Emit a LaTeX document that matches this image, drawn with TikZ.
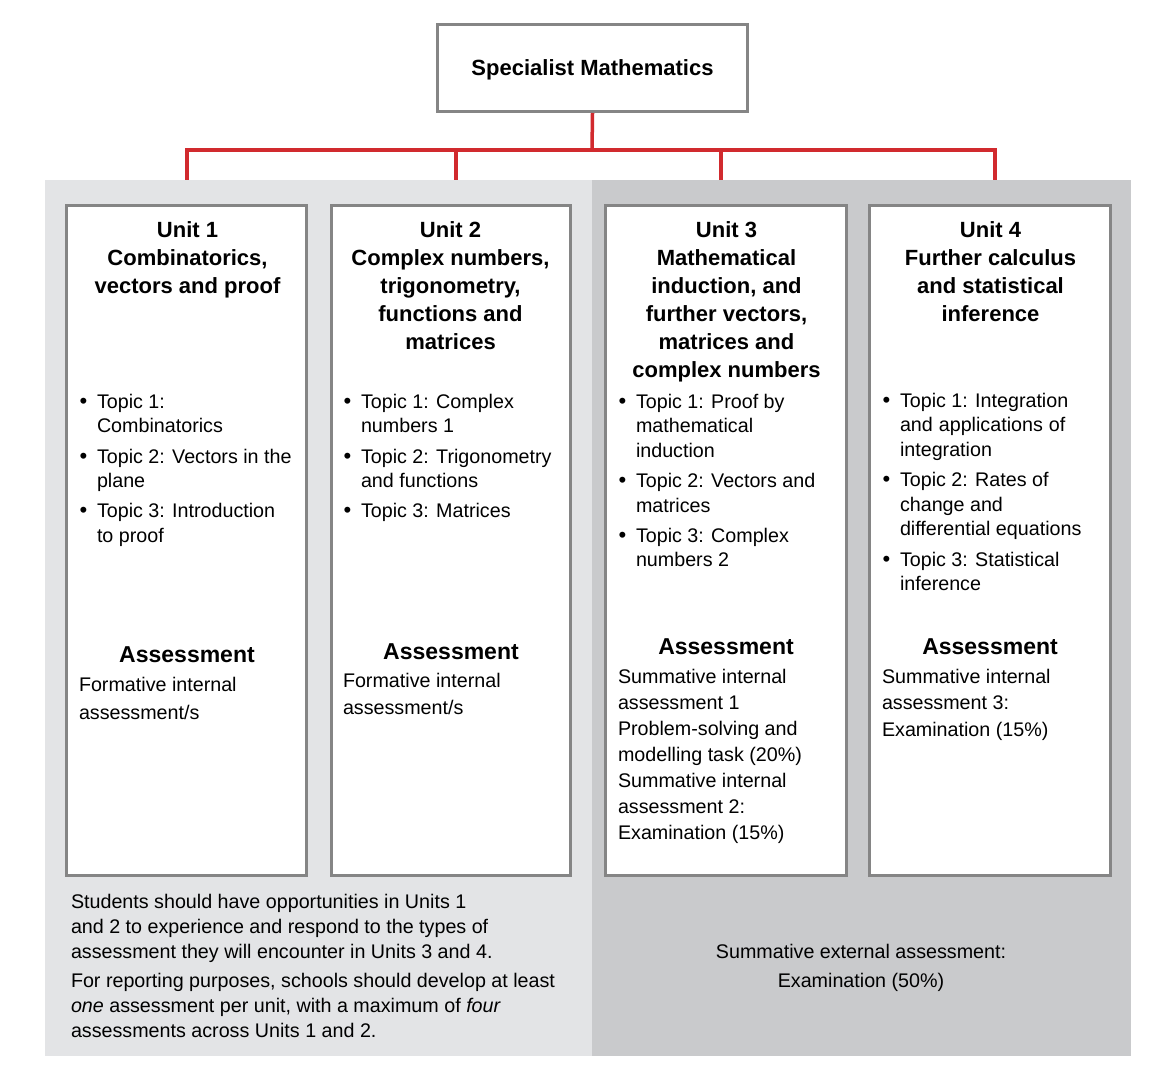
\documentclass[tikz,border=0pt]{standalone}
\usepackage{fontspec}
\setmainfont{Liberation Sans}
\usetikzlibrary{shadows}
\definecolor{redline}{HTML}{D12A2E}
\definecolor{boxborder}{HTML}{858585}
\definecolor{panelL}{HTML}{E3E4E6}
\definecolor{panelR}{HTML}{C9CACC}
\newcommand{\bodyfont}{\fontsize{19.7}{24.5}\selectfont}
\newcommand{\titlefont}{\fontsize{22}{28}\selectfont\bfseries}
\newcommand{\asfont}{\fontsize{23}{28}\selectfont\bfseries}
\newcommand{\bul}{\makebox[6.9pt][c]{\fontsize{22}{24}\selectfont\textbullet}}
\tikzset{
  boxshadow/.style={drop shadow={shadow xshift=1.5pt, shadow yshift=-1.5pt, opacity=0.35, fill=black}},
  unitbox/.style={draw=boxborder, line width=3pt, fill=white, anchor=north west, inner sep=0pt, boxshadow},
  conn/.style={draw=redline, line width=3.5pt},
  txt/.style={inner sep=0pt, outer sep=0pt, anchor=base west},
  ctxt/.style={inner sep=0pt, outer sep=0pt, anchor=base},
}
\begin{document}
\begin{tikzpicture}[x=1pt, y=-1pt]
\useasboundingbox (0,0) rectangle (1155,1083);
\fill[white] (0,0) rectangle (1155,1083);
% panels
\fill[panelL] (45,180) rectangle (592,1056);
\fill[panelR] (592,180) rectangle (1131,1056);
% top box
\node[draw=boxborder, line width=3pt, fill=white, minimum width=310pt, minimum height=87pt, inner sep=0pt, text height=16pt, text depth=0pt, boxshadow] (sm) at (592.5,68) {\titlefont Specialist Mathematics};
% connectors
\coordinate (jn) at (592,150);
\coordinate (d1) at (187,180);
\coordinate (d2) at (456,180);
\coordinate (d3) at (721,180);
\coordinate (d4) at (995,180);
\draw[conn] (sm.south) -- (jn);
\draw[conn] (d1) |- (jn);
\draw[conn] (d4) |- (jn);
\draw[conn] (d2) -- (d2 |- jn);
\draw[conn] (d3) -- (d3 |- jn);
% unit boxes
\node[unitbox, minimum width=240pt, minimum height=670pt] (u1) at (65,204) {};
\node[unitbox, minimum width=239pt, minimum height=670pt] (u2) at (330,204) {};
\node[unitbox, minimum width=241pt, minimum height=670pt] (u3) at (604,204) {};
\node[unitbox, minimum width=241pt, minimum height=670pt] (u4) at (868,204) {};
% titles
\node[ctxt] (h1) at (187.5,237) {\titlefont\begin{tabular}[t]{@{}c@{}}Unit 1\\Combinatorics,\\vectors and proof\end{tabular}};
\node[ctxt] (h2) at (450.5,237) {\titlefont\begin{tabular}[t]{@{}c@{}}Unit 2\\Complex numbers,\\trigonometry,\\functions and\\matrices\end{tabular}};
\node[ctxt] (h3) at (726.5,237) {\titlefont\begin{tabular}[t]{@{}c@{}}Unit 3\\Mathematical\\induction, and\\further vectors,\\matrices and\\complex numbers\end{tabular}};
\node[ctxt] (h4) at (990.5,237) {\titlefont\begin{tabular}[t]{@{}c@{}}Unit 4\\Further calculus\\and statistical\\inference\end{tabular}};
% topics
\node[txt] (t1) at (80.1,408) {\bodyfont\begin{tabular}[t]{@{}l@{\hspace{10pt}}l@{}}\bul & Topic 1:\\ & Combinatorics\\[6pt] \bul & Topic 2: Vectors in the\\ & plane\\[5.5pt] \bul & Topic 3: Introduction\\ & to proof\end{tabular}};
\node[txt] (t2) at (344.1,408) {\bodyfont\begin{tabular}[t]{@{}l@{\hspace{10pt}}l@{}}\bul & Topic 1: Complex\\ & numbers 1\\[6pt] \bul & Topic 2: Trigonometry\\ & and functions\\[5.5pt] \bul & Topic 3: Matrices\end{tabular}};
\node[txt] (t3) at (619.1,408) {\bodyfont\begin{tabular}[t]{@{}l@{\hspace{10pt}}l@{}}\bul & Topic 1: Proof by\\ & mathematical\\ & induction\\[6pt] \bul & Topic 2: Vectors and\\ & matrices\\[5.5pt] \bul & Topic 3: Complex\\ & numbers 2\end{tabular}};
\node[txt] (t4) at (883.1,407) {\bodyfont\begin{tabular}[t]{@{}l@{\hspace{10pt}}l@{}}\bul & Topic 1: Integration\\ & and\hspace{6pt}applications\hspace{6pt}of\\ & integration\\[6pt] \bul & Topic 2: Rates of\\ & change and\\ & differential equations\\[6pt] \bul & Topic 3: Statistical\\ & inference\end{tabular}};
% assessment headers
\node[ctxt] (a1) at (187,662) {\asfont Assessment};
\node[ctxt] (a2) at (451,659) {\asfont Assessment};
\node[ctxt] (a3) at (726,654) {\asfont Assessment};
\node[ctxt] (a4) at (990,654) {\asfont Assessment};
% assessment bodies
\node[txt] (b1) at (79,691) {\fontsize{19.7}{28}\selectfont\begin{tabular}[t]{@{}l@{}}Formative internal\\assessment/s\end{tabular}};
\node[txt] (b2) at (343,687) {\fontsize{19.7}{27}\selectfont\begin{tabular}[t]{@{}l@{}}Formative internal\\assessment/s\end{tabular}};
\node[txt] (b3) at (618,683) {\fontsize{19.7}{26}\selectfont\begin{tabular}[t]{@{}l@{}}Summative internal\\assessment 1\\Problem-solving and\\modelling task (20\%)\\Summative internal\\assessment 2:\\Examination (15\%)\end{tabular}};
\node[txt] (b4) at (882,683) {\fontsize{19.7}{26.5}\selectfont\begin{tabular}[t]{@{}l@{}}Summative internal\\assessment 3:\\Examination (15\%)\end{tabular}};
% bottom texts
\node[txt] (n1) at (71,908) {\fontsize{19.7}{25}\selectfont\begin{tabular}[t]{@{}l@{}}Students should have opportunities in Units 1\\and 2 to experience and respond to the types of\\assessment they will encounter in Units 3 and 4.\\[4pt]For reporting purposes, schools should develop at least\\\textit{one} assessment per unit, with a maximum of \textit{four}\\assessments across Units 1 and 2.\end{tabular}};
\node[ctxt] (n2) at (861,958) {\fontsize{19.7}{29}\selectfont\begin{tabular}[t]{@{}c@{}}Summative external assessment:\\Examination (50\%)\end{tabular}};
\end{tikzpicture}
\end{document}
